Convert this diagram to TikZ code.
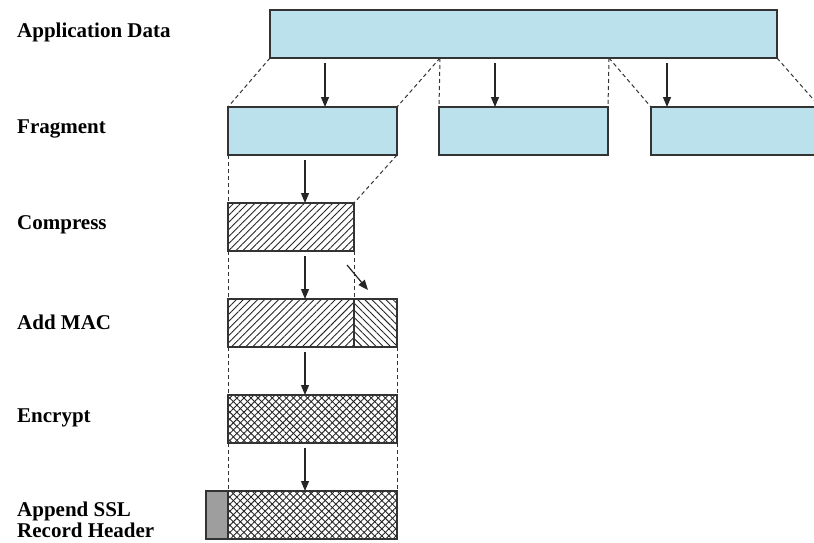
\documentclass[tikz,border=0pt]{standalone}
\usepackage{fontspec}
\setmainfont{Liberation Serif}
\usetikzlibrary{arrows.meta,patterns.meta}

\definecolor{frag}{RGB}{186,225,236}

\begin{document}
\begin{tikzpicture}[x=1pt,y=-1pt,
  blk/.style={draw=black!80,line width=2.2pt,inner sep=0,outer sep=0,minimum height=48pt},
  lbl/.style={anchor=west,inner sep=0,align=left,font=\bfseries\fontsize{21}{20.5}\selectfont},
  cut/.style={black!80,line width=1pt,dash pattern=on 4pt off 3pt},
  arr/.style={black!85,line width=1.2pt,-{Triangle[length=10pt,width=8pt]}},
  fwd/.style={pattern={Lines[angle=45,distance=5pt,line width=0.9pt]},pattern color=black!85},
  bwd/.style={pattern={Lines[angle=-45,distance=5pt,line width=0.9pt]},pattern color=black!85},
  xx/.style={fwd,preaction={bwd}}]
\useasboundingbox (0,0) rectangle (814,543);
\clip (0,0) rectangle (814,543);
\def\feld#1#2#3#4{\node[blk,minimum width=#3pt,#4] at (#2) (#1) {};}

% labels
\node[lbl] at (17,32) (lapp) {Application Data};
\node[lbl] at (17,129) (lfrag) {Fragment};
\node[lbl] at (17,225) (lcmp) {Compress};
\node[lbl] at (17,322) (lmac) {Add MAC};
\node[lbl] at (17,418) (lenc) {Encrypt};
\node[lbl] at (17,520) (lhdr) {Append SSL\\Record Header};

% boxes
\feld{app}{523.5,34}{507}{fill=frag}
\feld{fr1}{312.5,131}{169}{fill=frag}
\feld{fr2}{523.5,131}{169}{fill=frag}
\feld{fr3}{735.5,131}{169}{fill=frag}
\feld{cmp}{291,227}{126}{fwd}
\feld{mac1}{291,323}{126}{fwd}
\feld{mac2}{375.5,323}{43}{bwd}
\feld{enc}{312.5,419}{169}{xx}
\feld{hdr}{217,515}{22}{fill=black!38}
\feld{rec}{312.5,515}{169}{xx}

% app -> fragments
\coordinate (s1) at (440,58);
\coordinate (s2) at (609,58);
\draw[cut] (app.south west) -- (fr1.north west);
\draw[cut] (s1) -- (fr1.north east);
\draw[cut] (s1) -- (fr2.north west);
\draw[cut] (s2) -- (fr2.north east);
\draw[cut] (s2) -- (fr3.north west);
\draw[cut] (app.south east) -- (fr3.north east);
\draw[arr] (325,63) -- (fr1.north -| 325,0);
\draw[arr] (495,63) -- (fr2.north -| 495,0);
\draw[arr] (667,63) -- (fr3.north -| 667,0);

% fragment -> compress -> mac
\draw[cut] (fr1.south west) -- (cmp.north west);
\draw[cut] (fr1.south east) -- (cmp.north east);
\draw[arr] (305,160) -- (cmp.north -| 305,0);
\draw[cut] (cmp.south west) -- (mac1.north west);
\draw[cut] (cmp.south east) -- (mac1.north east);
\draw[arr] (305,256) -- (mac1.north -| 305,0);
\draw[arr] (347,265) -- (368,290);

% mac -> encrypt -> record
\draw[cut] (mac1.south west) -- (enc.north west);
\draw[cut] (mac2.south east) -- (enc.north east);
\draw[arr] (305,352) -- (enc.north -| 305,0);
\draw[cut] (enc.south west) -- (rec.north west);
\draw[cut] (enc.south east) -- (rec.north east);
\draw[arr] (305,448) -- (rec.north -| 305,0);
\end{tikzpicture}
\end{document}
